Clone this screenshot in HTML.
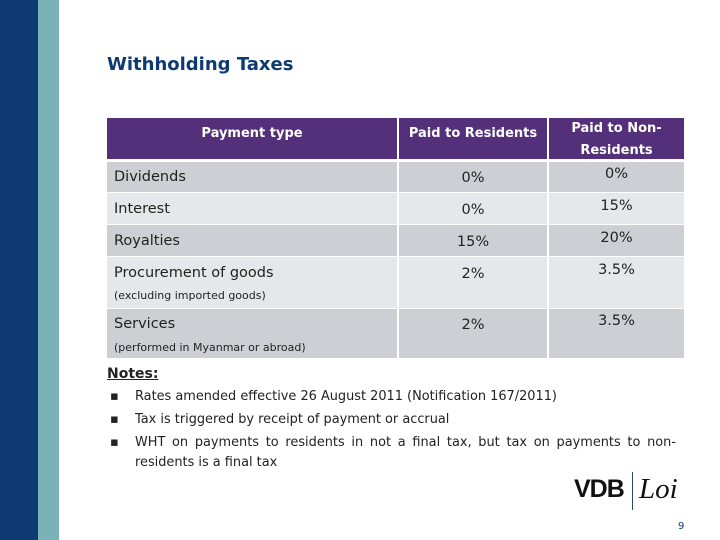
<!DOCTYPE html>
<html><head><meta charset="utf-8"><style>
body{margin:0;width:720px;height:540px;position:relative;background:#fff;font-family:"DejaVu Sans","Liberation Sans",sans-serif;overflow:hidden}
.abs{position:absolute}
.c{position:absolute;font-size:14.5px;color:#222}
.hd{color:#fff;font-weight:bold;font-size:13px;text-align:center}
.sm{font-size:11px;color:#222}
.n{font-size:12.9px;color:#222}
</style></head><body>
<div class="abs" style="left:0;top:0;width:38px;height:540px;background:#0e3a72"></div>
<div class="abs" style="left:38px;top:0;width:21px;height:540px;background:#79b2b8"></div>
<div class="abs" style="left:107px;top:54px;font-size:18px;font-weight:bold;color:#0e3a72;font-family:'DejaVu Sans',sans-serif">Withholding Taxes</div>

<div>
<div class="abs" style="left:107px;top:118px;width:577px;height:41px;background:#55307a"></div>
<div class="abs" style="left:397px;top:118px;width:2px;height:240px;background:#fff"></div>
<div class="abs" style="left:547px;top:118px;width:2px;height:240px;background:#fff"></div>
<div class="abs hd" style="left:107px;top:126px;width:290px">Payment type</div>
<div class="abs hd" style="left:399px;top:126px;width:148px">Paid to Residents</div>
<div class="abs hd" style="left:549px;top:118px;width:135px;line-height:22px">Paid to Non-<br>Residents</div>

<div class="abs" style="left:107px;top:162px;width:577px;height:30px;background:#cdcfd4"></div>
<div class="abs" style="left:107px;top:193px;width:577px;height:31px;background:#e6e7ea"></div>
<div class="abs" style="left:107px;top:225px;width:577px;height:31px;background:#cdcfd4"></div>
<div class="abs" style="left:107px;top:257px;width:577px;height:51px;background:#e6e7ea"></div>
<div class="abs" style="left:107px;top:309px;width:577px;height:49px;background:#cdcfd4"></div>
<div class="abs" style="left:397px;top:159px;width:2px;height:199px;background:#fff"></div>
<div class="abs" style="left:547px;top:159px;width:2px;height:199px;background:#fff"></div>

<div class="c" style="left:114px;top:169px">Dividends</div>
<div class="c" style="left:114px;top:201px">Interest</div>
<div class="c" style="left:114px;top:233px">Royalties</div>
<div class="c" style="left:114px;top:265px">Procurement of goods</div>
<div class="c sm" style="left:114px;top:289px">(excluding imported goods)</div>
<div class="c" style="left:114px;top:316px">Services</div>
<div class="c sm" style="left:114px;top:341px">(performed in Myanmar or abroad)</div>

<div class="c" style="left:399px;width:148px;text-align:center;top:170px">0%</div>
<div class="c" style="left:399px;width:148px;text-align:center;top:202px">0%</div>
<div class="c" style="left:399px;width:148px;text-align:center;top:234px">15%</div>
<div class="c" style="left:399px;width:148px;text-align:center;top:266px">2%</div>
<div class="c" style="left:399px;width:148px;text-align:center;top:317px">2%</div>
<div class="c" style="left:549px;width:135px;text-align:center;top:166px">0%</div>
<div class="c" style="left:549px;width:135px;text-align:center;top:198px">15%</div>
<div class="c" style="left:549px;width:135px;text-align:center;top:230px">20%</div>
<div class="c" style="left:549px;width:135px;text-align:center;top:262px">3.5%</div>
<div class="c" style="left:549px;width:135px;text-align:center;top:313px">3.5%</div>
</div>

<div class="abs" style="left:107px;top:366px;font-size:14px;font-weight:bold;text-decoration:underline;color:#222">Notes:</div>
<div>
<div class="abs n" style="left:110px;top:389px">&#9642;</div><div class="abs n" style="left:135px;top:389px">Rates amended effective 26 August 2011 (Notification 167/2011)</div>
<div class="abs n" style="left:110px;top:412px">&#9642;</div><div class="abs n" style="left:135px;top:412px">Tax is triggered by receipt of payment or accrual</div>
<div class="abs n" style="left:110px;top:435px">&#9642;</div><div class="abs n" style="left:135px;top:435px;width:541px;text-align:justify;text-align-last:justify">WHT on payments to residents in not a final tax, but tax on payments to non-</div>
<div class="abs n" style="left:135px;top:455px">residents is a final tax</div>
</div>

<div>
<div class="abs" style="left:574px;top:475px;font-size:25px;font-weight:bold;letter-spacing:-1px;color:#111;font-family:'Liberation Sans',sans-serif">VDB</div>
<div class="abs" style="left:632px;top:472px;width:1px;height:38px;background:#2a4a6a"></div>
<div class="abs" style="left:639px;top:473px;font-size:29px;font-style:italic;color:#111;font-family:'Liberation Serif',serif">Loi</div>
</div>
<div class="abs" style="left:678px;top:521px;font-size:10px;color:#0e3a72">9</div>
</body></html>
